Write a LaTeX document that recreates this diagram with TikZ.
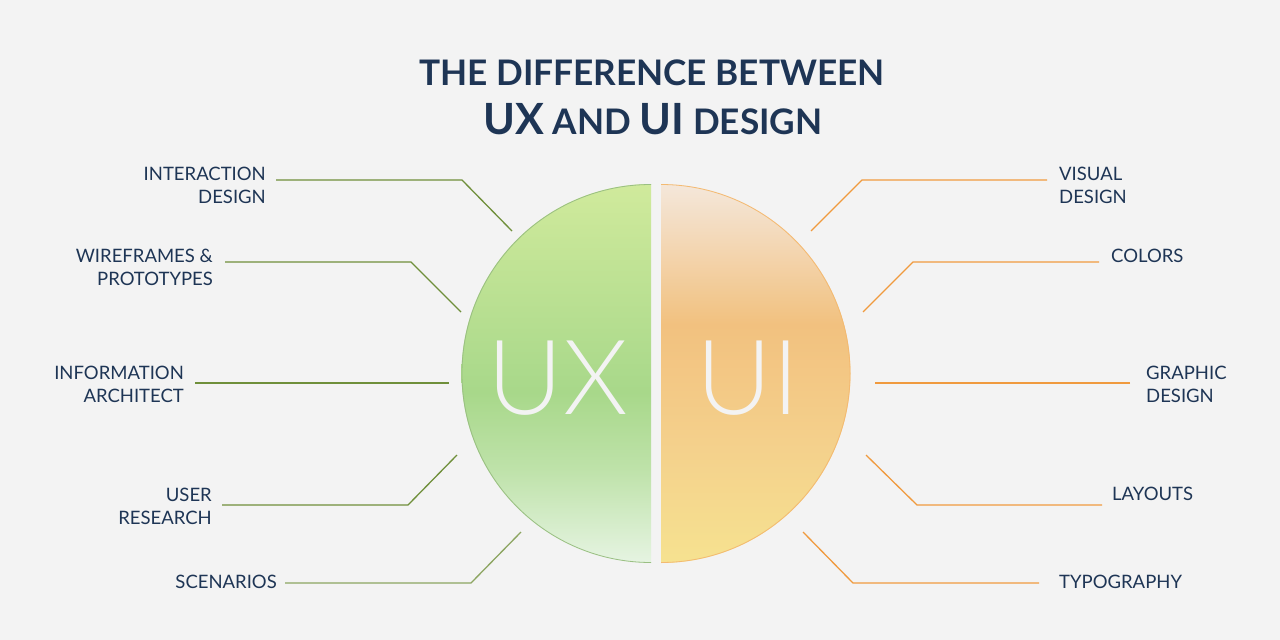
\documentclass[tikz,border=0pt]{standalone}
\usepackage{fontspec}
\setmainfont{Lato}
\newfontfamily\lightfont{Lato Light}
\usepackage{tikz}
\usetikzlibrary{positioning}

\definecolor{navy}{HTML}{1E3555}
\definecolor{bgcol}{HTML}{F3F3F3}
\definecolor{uxln}{HTML}{6F8F3A}
\definecolor{uiln}{HTML}{F09A3E}
\definecolor{uxA}{HTML}{D0EA9C}
\definecolor{uxB}{HTML}{A8D88A}
\definecolor{uxC}{HTML}{BEE2A9}
\definecolor{uxD}{HTML}{E6F4E2}
\definecolor{uiA}{HTML}{F4E7DA}
\definecolor{uiB}{HTML}{F3DBBE}
\definecolor{uiC}{HTML}{F2C17F}
\definecolor{uiD}{HTML}{F4D18C}
\definecolor{uiE}{HTML}{F6E290}

\pgfdeclareverticalshading{uxfill}{100bp}{color(0bp)=(uxD); color(25bp)=(uxD);
  color(37.5bp)=(uxC); color(47.5bp)=(uxB); color(75bp)=(uxA); color(100bp)=(uxA)}
\pgfdeclareverticalshading{uifill}{100bp}{color(0bp)=(uiE); color(25bp)=(uiE);
  color(40bp)=(uiD); color(56.5bp)=(uiC); color(69bp)=(uiB); color(75bp)=(uiA); color(100bp)=(uiA)}

\begin{document}
\begin{tikzpicture}[
  x=1pt, y=-1pt,
  lbl/.style={inner sep=0pt, text=navy, font=\fontsize{18.5}{22.5}\selectfont},
  ttl/.style={inner sep=0pt, text=navy, font=\bfseries\fontsize{35.2}{40}\selectfont},
  big/.style={inner sep=0pt, text=bgcol, font=\lightfont\fontsize{104}{104}\selectfont},
  uxlink/.style={draw=uxln, line width=1.3pt},
  uilink/.style={draw=uiln, line width=1.3pt}
]
\fill[bgcol] (0,0) rectangle (1280,640);
\useasboundingbox (0,0) rectangle (1280,640);

% title
\node[ttl, anchor=base] (t1) at (652,85) {THE DIFFERENCE BETWEEN};
\node[ttl, anchor=base] (t2) at (653,134) {{\fontsize{43}{43}\selectfont UX} AND {\fontsize{43}{43}\selectfont UI} DESIGN};

% the two halves
\begin{scope}
  \clip (440,170) rectangle (651,580);
  \shade[shading=uxfill] (651,373.5) circle[radius=189.5pt];
  \draw[draw=uxB!85!black!90, line width=0.8pt] (651,373.5) circle[radius=189pt];
\end{scope}
\begin{scope}
  \clip (661,170) rectangle (870,580);
  \shade[shading=uifill] (661,373.5) circle[radius=189.5pt];
  \draw[draw=uiC!90!orange, line width=0.8pt] (661,373.5) circle[radius=189pt];
\end{scope}
\node[big, anchor=base] (ux) at (558,414) {UX};
\node[big, anchor=base] (ui) at (748,414) {UI};

% UX side
\node[lbl, anchor=north east, align=right] (ixd) at (266,167) {INTERACTION\\DESIGN};
\node[lbl, anchor=north east, align=right] (wfp) at (213,249) {WIREFRAMES \&\\PROTOTYPES};
\node[lbl, anchor=north east, align=right] (ia) at (184,366) {INFORMATION\\ARCHITECT};
\node[lbl, anchor=north east, align=right] (ur) at (212,488) {USER\\RESEARCH};
\node[lbl, anchor=north east, align=right] (sc) at (277,575) {SCENARIOS};

\coordinate (ixd-out) at (276,180); \coordinate (ixd-in) at (512,231);
\coordinate (wfp-out) at (225,262); \coordinate (wfp-in) at (461,312);
\coordinate (ia-out) at (195,383);  \coordinate (ia-in) at (449,383);
\coordinate (ur-out) at (222,505);  \coordinate (ur-in) at (457,455);
\coordinate (sc-out) at (285,583);  \coordinate (sc-in) at (521,532);

\draw[uxlink] (ixd-out) -- (462,180) -- (ixd-in);
\draw[uxlink] (wfp-out) -- (411,262) -- (wfp-in);
\draw[uxlink] (ia-out) -- (ia-in);
\draw[uxlink] (ur-out) -- (408,505) -- (ur-in);
\draw[uxlink, uxln!80] (sc-out) -- (471,583) -- (sc-in);

% UI side
\node[lbl, anchor=north west, align=left] (vd) at (1059,167) {VISUAL\\DESIGN};
\node[lbl, anchor=north west, align=left] (col) at (1111,249) {COLORS};
\node[lbl, anchor=north west, align=left] (gd) at (1146,366) {GRAPHIC\\DESIGN};
\node[lbl, anchor=north west, align=left] (lay) at (1112,487) {LAYOUTS};
\node[lbl, anchor=north west, align=left] (typ) at (1059,575) {TYPOGRAPHY};

\coordinate (vd-out) at (1047,180);  \coordinate (vd-in) at (811,231);
\coordinate (col-out) at (1099,262); \coordinate (col-in) at (863,312);
\coordinate (gd-out) at (1130,383);  \coordinate (gd-in) at (875,383);
\coordinate (lay-out) at (1102,505); \coordinate (lay-in) at (866,455);
\coordinate (typ-out) at (1039,583); \coordinate (typ-in) at (803,532);

\draw[uilink] (vd-out) -- (862,180) -- (vd-in);
\draw[uilink] (col-out) -- (913,262) -- (col-in);
\draw[uilink] (gd-out) -- (gd-in);
\draw[uilink] (lay-out) -- (917,505) -- (lay-in);
\draw[uilink] (typ-out) -- (853,583) -- (typ-in);
\end{tikzpicture}
\end{document}
